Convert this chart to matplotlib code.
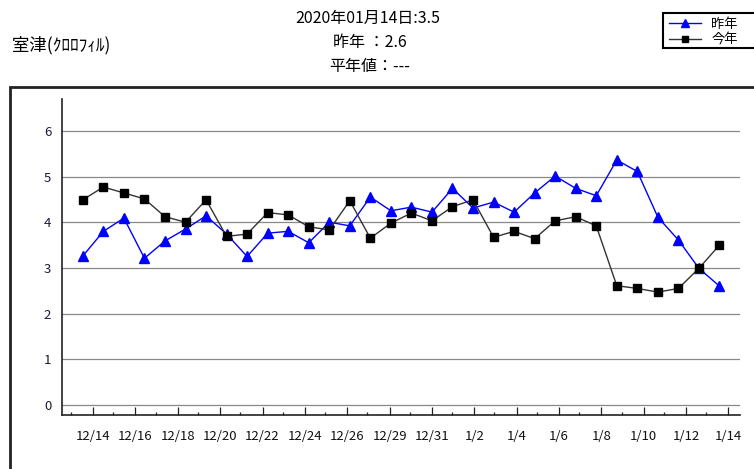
import matplotlib
matplotlib.use('Agg')
import matplotlib.pyplot as plt
from matplotlib.patches import Rectangle
import numpy as np

plt.rcParams['font.family'] = ['Noto Sans CJK JP', 'DejaVu Sans']

# ---- data ----
tick_labels = ['12/14', '12/16', '12/18', '12/20', '12/22', '12/24', '12/26', '12/29',
               '12/31', '1/2', '1/4', '1/6', '1/8', '1/10', '1/12', '1/14']
last_year = [3.26, 3.80, 4.09, 3.21, 3.59, 3.85, 4.14, 3.74, 3.25, 3.76, 3.80, 3.55,
             4.00, 3.92, 4.55, 4.25, 4.33, 4.22, 4.74, 4.31, 4.44, 4.22, 4.64, 5.01,
             4.74, 4.58, 5.36, 5.11, 4.11, 3.61, 2.99, 2.60]
this_year = [4.49, 4.77, 4.64, 4.51, 4.12, 4.00, 4.49, 3.69, 3.74, 4.21, 4.16, 3.90,
             3.83, 4.47, 3.65, 3.98, 4.20, 4.03, 4.34, 4.49, 3.67, 3.80, 3.64, 4.03,
             4.12, 3.92, 2.61, 2.55, 2.47, 2.55, 2.99, 3.50]
series_names = ['昨年', '今年']
title_lines = ['2020年01月14日:3.5', '昨年 ：2.6', '平年値：---']
station = '室津(ｸﾛﾛﾌｨﾙ)'

W, H = 754, 469
fig = plt.figure(figsize=(W / 100, H / 100), dpi=100)


def fx(px):
    return px / W


def fy(py):
    return 1 - py / H


ax = fig.add_axes([fx(62.3), fy(415), (740 - 62.3) / W, (415 - 99.3) / H])
x = np.arange(1, len(this_year) + 1)
ax.plot(x, last_year, color='#0000ff', lw=1.0, marker='^', ms=6.5,
        mfc='#0000ff', mec='#0000ff', label=series_names[0], zorder=3)
ax.plot(x, this_year, color='#333333', lw=1.0, marker='s', ms=6,
        mfc='black', mec='black', label=series_names[1], zorder=4)

ax.set_xlim(0, 33)
ax.set_ylim(-0.22, 6.69)
ax.set_yticks(range(7))
ax.yaxis.grid(True, color='#888888', lw=0.9)
ax.set_axisbelow(True)

step = 33 / 16
ax.set_xticks([1.5 + k * step for k in range(len(tick_labels))])
ax.set_xticklabels(tick_labels)
ax.set_xticks([0.42 + k * step for k in range(len(tick_labels))], minor=True)
ax.tick_params(axis='x', which='major', direction='in', length=6, width=0.9,
               pad=10.5, labelsize=9.5, color='#222222', labelcolor='#111111')
ax.tick_params(axis='x', which='minor', direction='in', length=2.5, width=0.9,
               color='#222222')
ax.tick_params(axis='y', length=0, pad=8, labelsize=9.5, labelcolor='#1a1a33')
for s in ['top', 'right']:
    ax.spines[s].set_visible(False)
for s in ['left', 'bottom']:
    ax.spines[s].set_color('#222222')
    ax.spines[s].set_linewidth(1.2)

# outer frame
fig.add_artist(Rectangle((fx(10), -0.1), 1.5, fy(87) + 0.1, transform=fig.transFigure,
                         fill=False, lw=2.0, ec='#222222'))

# titles
fig.text(fx(368), fy(18), title_lines[0], ha='center', va='center', fontsize=11.5)
fig.text(fx(370), fy(43), title_lines[1], ha='center', va='center', fontsize=11.5)
fig.text(fx(370), fy(67), title_lines[2], ha='center', va='center', fontsize=11.5)
fig.text(fx(12), fy(45), station, ha='left', va='center', fontsize=12.5)

# legend box (extends past the right edge, as in the reference)
fig.add_artist(Rectangle((fx(663), fy(48)), 0.2, (48 - 13) / H, transform=fig.transFigure,
                         fill=True, fc='white', lw=1.5, ec='black', zorder=5))
leg = fig.legend(loc='upper left', bbox_to_anchor=(fx(665), fy(14)),
                 bbox_transform=fig.transFigure, fontsize=9.5, frameon=False,
                 borderaxespad=0, handlelength=2.4, handletextpad=0.8,
                 labelspacing=0.2, borderpad=0.3, markerscale=0.8)
leg.set_zorder(6)

fig.savefig('out.png', dpi=100)
